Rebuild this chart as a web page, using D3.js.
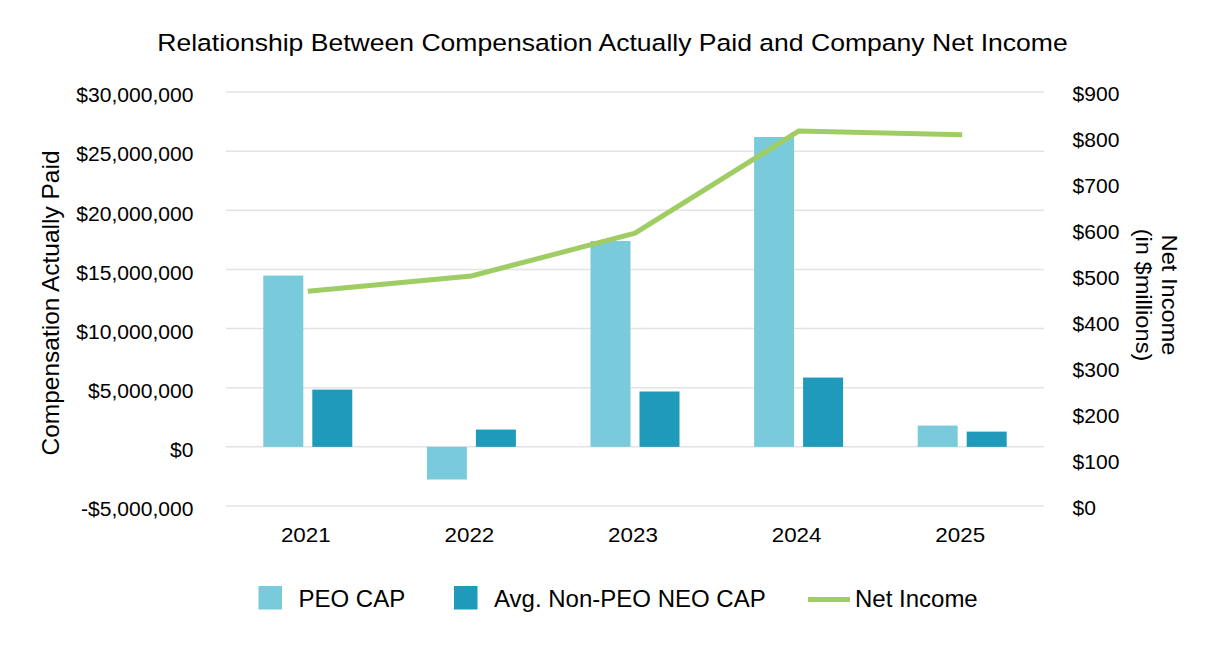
<!DOCTYPE html>
<html>
<head>
<meta charset="utf-8">
<script src="https://cdn.jsdelivr.net/npm/d3@7"></script>
<style>
  body { margin: 0; background: #fff; }
  svg { font-family: Arial, "Liberation Sans", sans-serif; }
</style>
</head>
<body>
<svg id="chart"></svg>
<script>
const years = ['2021', '2022', '2023', '2024', '2025'];
const peoCap = [14480000, -2760000, 17400000, 26200000, 1800000];
const nonPeoCap = [4840000, 1460000, 4680000, 5860000, 1290000];
const netIncome = [467, 500, 593, 815, 807];
const leftTicks = [-5000000, 0, 5000000, 10000000, 15000000, 20000000, 25000000, 30000000];
const rightTicks = [0, 100, 200, 300, 400, 500, 600, 700, 800, 900];

const width = 1226;
const height = 652;

const svg = d3.select('svg#chart')
    .attr('width', width)
    .attr('height', height);

const x = d3.scaleBand()
    .domain(years)
    .range([226, 1044]);

const keys = ['peo', 'nonPeo'];
const colors = { peo: '#79cbdc', nonPeo: '#1f9abb' };
const lineColor = '#9fcd63';
const x1 = d3.scaleBand()
    .domain(keys)
    .range([x.bandwidth() / 2 - 44.5, x.bandwidth() / 2 + 44.5])
    .paddingInner(0.1837);

const yLeft = d3.scaleLinear().domain([-5000000, 30000000]).range([506, 92]);
const yRight = d3.scaleLinear().domain([0, 900]).range([506, 92]);

// gridlines
svg.append('g')
    .selectAll('line')
    .data(leftTicks)
    .join('line')
    .attr('x1', 226)
    .attr('x2', 1044)
    .attr('y1', d => yLeft(d))
    .attr('y2', d => yLeft(d))
    .attr('stroke', '#e3e3e3')
    .attr('stroke-width', 1.5);

const fmtLeft = d => (d < 0 ? '-$' : '$') + d3.format(',')(Math.abs(d));

function styleTicks(g, size, sx, dy) {
    g.select('.domain').remove();
    g.selectAll('text')
        .attr('font-size', size)
        .attr('font-family', 'Arial, "Liberation Sans", sans-serif')
        .attr('fill', '#000')
        .attr('dy', dy)
        .attr('transform', `scale(${sx},1)`);
}

svg.append('g')
    .attr('transform', 'translate(193.5,0)')
    .call(d3.axisLeft(yLeft).tickValues(leftTicks).tickFormat(fmtLeft).tickSize(0).tickPadding(0))
    .call(g => styleTicks(g, 19.7, 1.07, '0.5em'));

svg.append('g')
    .attr('transform', 'translate(1072.5,0)')
    .call(d3.axisRight(yRight).tickValues(rightTicks).tickFormat(d => '$' + d).tickSize(0).tickPadding(0))
    .call(g => styleTicks(g, 19.7, 1.07, '0.45em'));

const xAxis = svg.append('g')
    .attr('transform', 'translate(-2,542)')
    .call(d3.axisBottom(x).tickSize(0).tickPadding(0))
    .call(g => styleTicks(g, 20, 1.12, '0'));

// bars
const rows = years.map((y, i) => ({ year: y, peo: peoCap[i], nonPeo: nonPeoCap[i] }));
svg.append('g')
    .selectAll('g')
    .data(rows)
    .join('g')
    .attr('transform', d => `translate(${x(d.year)},0)`)
    .selectAll('rect')
    .data(d => keys.map(k => ({ key: k, value: d[k] })))
    .join('rect')
    .attr('x', d => x1(d.key))
    .attr('width', x1.bandwidth())
    .attr('y', d => yLeft(Math.max(0, d.value)))
    .attr('height', d => Math.abs(yLeft(d.value) - yLeft(0)))
    .attr('fill', d => colors[d.key]);

// net income line
const line = d3.line()
    .x((d, i) => x(years[i]) + x.bandwidth() / 2)
    .y(d => yRight(d));
svg.append('path')
    .datum(netIncome)
    .attr('d', line)
    .attr('fill', 'none')
    .attr('stroke', lineColor)
    .attr('stroke-width', 5);

// titles
svg.append('text')
    .attr('transform', 'translate(612.5,50.7) scale(1.14,1)')
    .attr('text-anchor', 'middle')
    .attr('font-size', 23.3)
    .text('Relationship Between Compensation Actually Paid and Company Net Income');

svg.append('text')
    .attr('transform', 'translate(58.5,303) rotate(-90)')
    .attr('text-anchor', 'middle')
    .attr('font-size', 24.5)
    .text('Compensation Actually Paid');

const rt = svg.append('text')
    .attr('transform', 'translate(1162,295) rotate(90) scale(1.1,1)')
    .attr('text-anchor', 'middle')
    .attr('font-size', 21.5);
rt.append('tspan').attr('x', 0).attr('dy', 0).text('Net Income');
rt.append('tspan').attr('x', 0).attr('dy', 26).text('(in $millions)');

// legend
const legend = svg.append('g');
const legendItems = [
    { label: 'PEO CAP', type: 'rect', color: colors.peo, x: 258.5 },
    { label: 'Avg. Non-PEO NEO CAP', type: 'rect', color: colors.nonPeo, x: 454 },
    { label: 'Net Income', type: 'line', color: lineColor, x: 808 }
];
legendItems.forEach(it => {
    if (it.type === 'rect') {
        legend.append('rect')
            .attr('x', it.x).attr('y', 586)
            .attr('width', 23.5).attr('height', 23.5)
            .attr('fill', it.color);
        legend.append('text')
            .attr('x', it.x + 40).attr('y', 607.3)
            .attr('font-size', 24)
            .text(it.label);
    } else {
        legend.append('line')
            .attr('x1', it.x).attr('x2', it.x + 42)
            .attr('y1', 599.5).attr('y2', 599.5)
            .attr('stroke', it.color).attr('stroke-width', 5);
        legend.append('text')
            .attr('x', it.x + 47).attr('y', 607.3)
            .attr('font-size', 24)
            .text(it.label);
    }
});
</script>
</body>
</html>
